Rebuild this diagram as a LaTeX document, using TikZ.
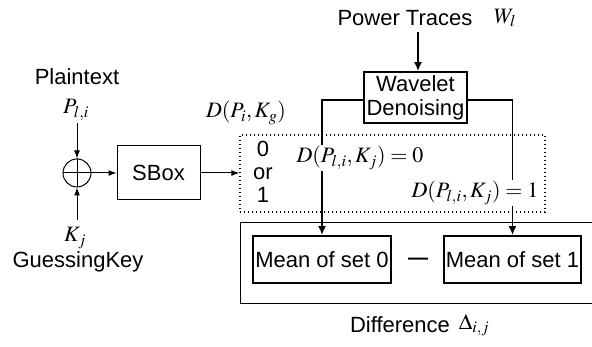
\documentclass[tikz,border=0pt]{standalone}
\usepackage{mathptmx}
\usepackage[no-math]{fontspec}
\setmainfont{Liberation Sans}
\usetikzlibrary{arrows.meta}
\begin{document}
\begin{tikzpicture}[x=1pt,y=-1pt,
  every node/.style={font=\fontsize{22}{24}\selectfont, inner sep=0pt},
  thinbox/.style={draw, line width=1pt},
  boldbox/.style={draw, line width=1.8pt},
  arr/.style={-{Latex[length=8pt,width=6pt]}, line width=1pt},
  barr/.style={-{Latex[length=9pt,width=8pt]}, line width=1.8pt},
  mathlbl/.style={fill=white, inner sep=1.5pt}]
\useasboundingbox (0,0) rectangle (592,347);

% input side: plaintext XOR key, then the S-box
\node (pt) at (77,77) {Plaintext};
\node (pli) at (76,110) {$P_{l,i}$};
\node[circle, draw, line width=1pt, minimum size=28pt] (xor) at (77,173) {};
\draw[line width=1pt] (xor.north) -- (xor.south) (xor.west) -- (xor.east);
\node (kj) at (75,238) {$K_j$};
\node (gk) at (78,262) {GuessingKey};
\coordinate (pin) at (77,123);
\coordinate (kin) at (77,220);
\draw[arr] (pin) -- (xor.north);
\draw[arr] (kin) -- (xor.south);
\node[thinbox, minimum width=83pt, minimum height=54pt] (sbox) at (158.5,173) {SBox};
\draw[arr] (xor.east) -- (sbox.west);

% selection function output
\node (dsel) at (246,113) {$D(P_i,K_g)$};
\node[draw, line width=1.4pt, dash pattern=on 1.4pt off 2.6pt,
      minimum width=305pt, minimum height=77pt] (dbox) at (392.5,173.5) {};
\node[align=center, font=\fontsize{22}{23}\selectfont] (bit) at (263,172) {0\\or\\1};
\draw[arr] (sbox.east) -- (sbox.east -| dbox.west);

% power traces and denoising
\node (pw) at (405,18) {Power Traces};
\node (wl) at (505,18) {$W_l$};
\node[boldbox, align=center, minimum width=103pt, minimum height=51pt] (wav) at (415.5,97.5) {Wavelet\\Denoising};
\coordinate (ptin) at (418,32);
\draw[barr] (ptin) -- (ptin |- wav.north);

% difference of means
\draw[line width=1pt] (592,223) -- (240,223) -- (240,304) -- (592,304);
\node[boldbox, minimum width=138pt, minimum height=47pt] (mean0) at (322,259.5) {Mean of set 0};
\node[boldbox, minimum width=137pt, minimum height=47pt] (mean1) at (512.5,259.5) {Mean of set 1};
\node[font=\fontsize{20}{22}\selectfont\bfseries] (minus) at (418,261) {\textemdash};
\draw[barr] ([yshift=-2.5pt]wav.west) -| (mean0.north);
\draw[barr] ([yshift=-2.5pt]wav.east) -| (mean1.north);
\node[mathlbl] (d0) at (360,158) {$D(P_{l,i},K_j)=0$};
\node[mathlbl] (d1) at (475,193) {$D(P_{l,i},K_j)=1$};
\node (diff) at (400,325) {Difference};
\node (delta) at (474,325) {$\Delta_{i,j}$};
\end{tikzpicture}
\end{document}
